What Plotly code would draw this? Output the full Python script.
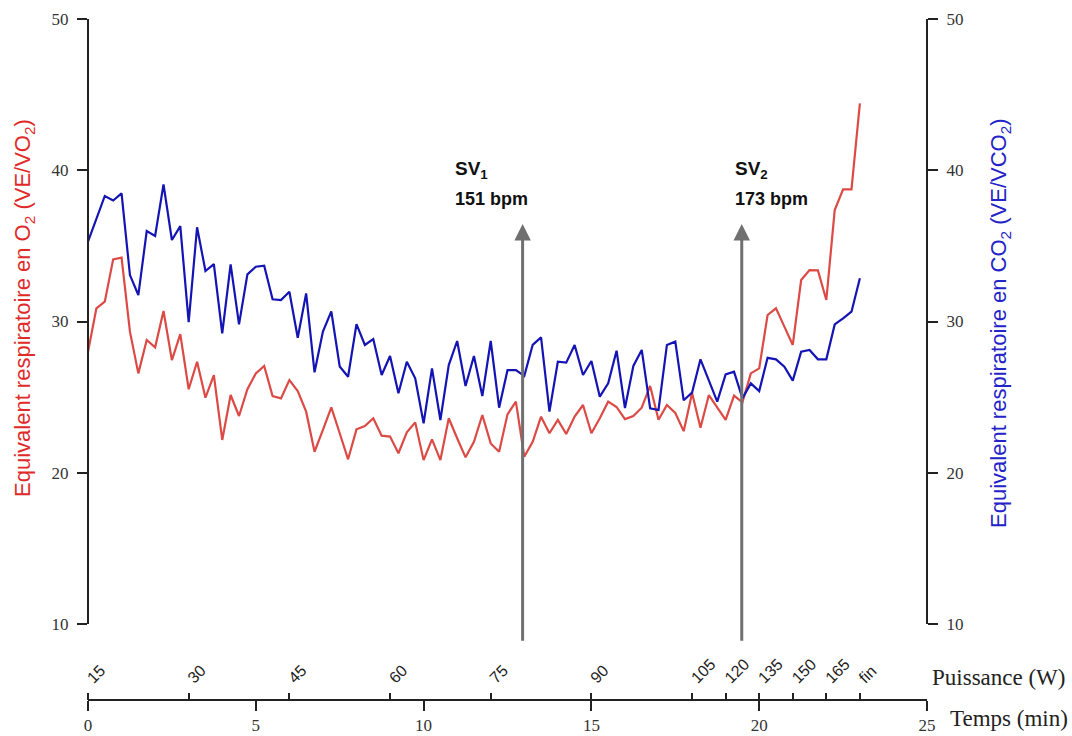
import plotly.graph_objects as go

# Breath-by-breath ventilatory equivalents, one value every 15 s
SAMPLE_STEP_MIN = 0.25

ve_vo2 = [
    28.0, 30.87, 31.31, 34.11, 34.22, 29.33, 26.57, 28.78, 28.29, 30.69,
    27.45, 29.17, 25.52, 27.34, 24.96, 26.46, 22.17, 25.14, 23.75, 25.52,
    26.57, 27.06, 25.07, 24.92, 26.13, 25.40, 24.04, 21.39, 22.83, 24.32,
    22.61, 20.89, 22.87, 23.09, 23.6, 22.45, 22.39, 21.29, 22.67, 23.33,
    20.84, 22.21, 20.84, 23.6, 22.28, 21.02, 22.05, 23.82, 21.94, 21.39,
    23.86, 24.7, 21.06, 22.05, 23.71, 22.61, 23.49, 22.56, 23.71, 24.48,
    22.61, 23.6, 24.7, 24.35, 23.55, 23.75, 24.3, 25.74, 23.5, 24.48,
    23.95, 22.75, 25.28, 22.97, 25.14, 24.33, 23.5, 25.1, 24.65, 26.57,
    26.9, 30.43, 30.87, 29.66, 28.45, 32.74, 33.4, 33.38, 31.42, 37.37,
    38.74, 38.74, 44.42,
]

ve_vco2 = [
    35.28, 36.8, 38.3, 38.0, 38.47, 33.07, 31.75, 35.98, 35.65, 39.07,
    35.39, 36.31, 29.95, 36.23, 33.34, 33.8, 29.22, 33.78, 29.81, 33.12,
    33.62, 33.69, 31.47, 31.42, 31.97, 28.93, 31.86, 26.64, 29.33, 30.67,
    27.03, 26.35, 29.83, 28.45, 28.84, 26.46, 27.72, 25.25, 27.34, 26.24,
    23.27, 26.9, 23.49, 27.12, 28.71, 25.74, 27.72, 25.07, 28.71, 24.3,
    26.78, 26.78, 26.4, 28.45, 28.95, 24.04, 27.34, 27.28, 28.45, 26.46,
    27.39, 25.03, 25.91, 28.07, 24.28, 27.06, 28.12, 24.26, 24.15, 28.45,
    28.67, 24.79, 25.3, 27.5, 26.08, 24.7, 26.5, 26.68, 24.92, 25.91,
    25.4, 27.6, 27.5, 27.01, 26.09, 28.0, 28.12, 27.5, 27.5, 29.81,
    30.21, 30.65, 32.86,
]

time_min = [i * SAMPLE_STEP_MIN for i in range(len(ve_vo2))]

# Time axis (min) and workload steps (W) sharing the same baseline
time_ticks = [0, 5, 10, 15, 20, 25]
power_tick_time = [0, 3, 6, 9, 12, 15, 18, 19, 20, 21, 22, 23]
power_tick_text = ["15", "30", "45", "60", "75", "90", "105", "120", "135", "150", "165", "fin"]
y_ticks = [10, 20, 30, 40, 50]

# Ventilatory thresholds
threshold_names = ["SV<sub>1</sub>", "SV<sub>2</sub>"]
threshold_hr = ["151 bpm", "173 bpm"]
threshold_time = [12.95, 19.48]

# ---- styling ----
W, H = 1072, 736
M_L, M_R, M_T, M_B = 88, 145, 19, 36
plot_h = H - M_T - M_B
y_bottom_px = 624  # pixel row of the y = 10 tick
dom0 = (H - M_B - y_bottom_px) / plot_h


def paper_y(px):
    return (H - M_B - px) / plot_h


RED_LINE = "#dc4a46"
BLUE_LINE = "#1414b4"
RED_TXT = "#e02a2a"
BLUE_TXT = "#2323c8"
AX = "#222222"
SERIF = "Liberation Serif, Times New Roman, serif"
SANS = "Liberation Sans, Arial, sans-serif"

fig = go.Figure()
fig.add_trace(go.Scatter(x=time_min, y=ve_vo2, mode="lines",
                         line=dict(color=RED_LINE, width=2.2),
                         xaxis="x", yaxis="y", showlegend=False, hoverinfo="skip"))
fig.add_trace(go.Scatter(x=time_min, y=ve_vco2, mode="lines",
                         line=dict(color=BLUE_LINE, width=2.2),
                         xaxis="x", yaxis="y2", showlegend=False, hoverinfo="skip"))
# carrier for the workload axis
fig.add_trace(go.Scatter(x=[], y=[], xaxis="x2", yaxis="y",
                         showlegend=False, hoverinfo="skip"))

y_common = dict(range=[10, 50], tickvals=y_ticks, showgrid=False, zeroline=False,
                showline=True, linecolor=AX, linewidth=2, ticks="outside",
                ticklen=10, tickwidth=2, tickcolor=AX, automargin=False,
                tickfont=dict(family=SERIF, size=17, color="#333"),
                ticklabelstandoff=5)

fig.update_layout(
    width=W, height=H,
    margin=dict(l=M_L, r=M_R, t=M_T, b=M_B, autoexpand=False),
    paper_bgcolor="white", plot_bgcolor="white",
    xaxis=dict(range=[0, 25], domain=[0, 1], anchor="free", position=0,
               tickvals=time_ticks, showgrid=False, zeroline=False,
               showline=True, linecolor=AX, linewidth=2, automargin=False,
               ticks="outside", ticklen=10, tickwidth=2, tickcolor=AX,
               tickfont=dict(family=SERIF, size=17, color="#333")),
    xaxis2=dict(range=[0, 25], overlaying="x", anchor="free", position=0, side="top",
                tickvals=power_tick_time, ticktext=power_tick_text, tickangle=-45,
                showgrid=False, zeroline=False, showline=False, automargin=False,
                ticks="outside", ticklen=7, tickwidth=2, tickcolor=AX,
                tickfont=dict(family=SANS, size=16, color="#222")),
    yaxis=dict(domain=[dom0, 1], anchor="free", position=0, side="left", **y_common),
    yaxis2=dict(overlaying="y", anchor="free", position=1, side="right", **y_common),
)

ann = []
# threshold arrows and labels
label_shift = [-70, -9]
for name, hr, t, dx in zip(threshold_names, threshold_hr, threshold_time, label_shift):
    ann.append(dict(x=t, y=36.45, ax=t, ay=8.8, xref="x", yref="y", axref="x", ayref="y",
                    text="", showarrow=True, arrowhead=2, arrowsize=1.1, arrowwidth=3,
                    arrowcolor="#707070"))
    ann.append(dict(x=t, y=39.09, xref="x", yref="y", xanchor="left", yanchor="bottom",
                    xshift=dx, text="<b>" + name + "</b>", showarrow=False,
                    font=dict(family=SANS, size=19, color="#111")))
    ann.append(dict(x=t, y=38.1, xref="x", yref="y", xanchor="left", yanchor="middle",
                    xshift=dx, text="<b>" + hr + "</b>", showarrow=False,
                    font=dict(family=SANS, size=18, color="#111")))

# axis titles
ann.append(dict(x=0, y=paper_y(308), xref="paper", yref="paper",
                xanchor="center", yanchor="middle", xshift=-64, textangle=-90,
                text="Equivalent respiratoire en O<sub>2</sub> (VE/VO<sub>2</sub>)",
                showarrow=False, font=dict(family=SANS, size=22, color=RED_TXT)))
ann.append(dict(x=1, y=paper_y(323), xref="paper", yref="paper",
                xanchor="center", yanchor="middle", xshift=73, textangle=-90,
                text="Equivalent respiratoire en CO<sub>2</sub> (VE/VCO<sub>2</sub>)",
                showarrow=False, font=dict(family=SANS, size=22, color=BLUE_TXT)))
ann.append(dict(x=1, y=0, xref="paper", yref="paper", xanchor="left", yanchor="middle",
                xshift=3, yshift=23, text="Puissance (W)", showarrow=False,
                font=dict(family=SERIF, size=23, color="#222")))
ann.append(dict(x=1, y=0, xref="paper", yref="paper", xanchor="left", yanchor="middle",
                xshift=21, yshift=-18, text="Temps (min)", showarrow=False,
                font=dict(family=SERIF, size=23, color="#222")))
fig.update_layout(annotations=ann)

fig.write_html("out.html")
